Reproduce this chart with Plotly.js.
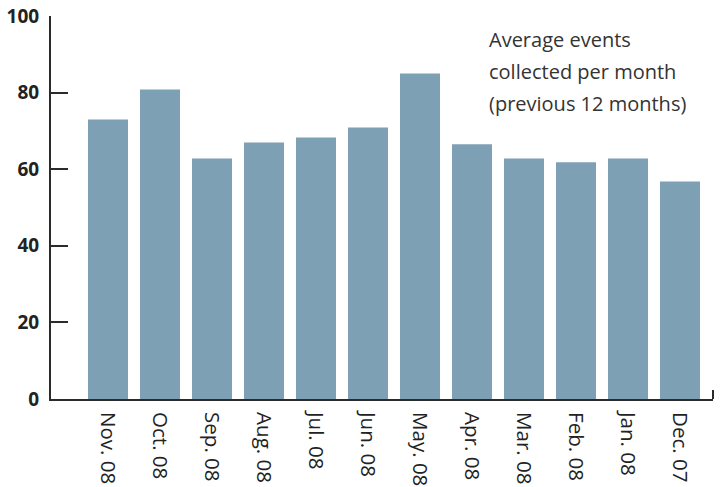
<!DOCTYPE html>
<html>
<head>
<meta charset="utf-8">
<script src="https://cdn.plot.ly/plotly-3.0.1.min.js"></script>
<style>html,body{margin:0;padding:0;background:#fff;}#chart{width:723px;height:487px;}</style>
</head>
<body>
<div id="chart"></div>
<script>
const months = ["Nov. 08","Oct. 08","Sep. 08","Aug. 08","Jul. 08","Jun. 08","May. 08","Apr. 08","Mar. 08","Feb. 08","Jan. 08","Dec. 07"];
const events = [73.0, 80.8, 62.8, 67.0, 68.3, 70.9, 85.0, 66.5, 62.8, 61.8, 62.8, 56.8];
const yTicks = [0, 20, 40, 60, 80, 100];
const noteLines = ["Average events", "collected per month", "(previous 12 months)"];

const axisColor = "#2b2b2b";
const font = "Open Sans, Noto Sans, sans-serif";

const annotations = noteLines.map((t, i) => ({
  xref: "paper", yref: "paper",
  x: (487 - 51) / 662, y: 1 - (i * 31.6 + 24) / 383.2,
  xanchor: "left", yanchor: "middle",
  text: t, showarrow: false,
  font: {family: font, size: 20, color: "#333333"}
}));

Plotly.newPlot("chart", [{
  type: "bar",
  x: months.map((m, i) => i),
  y: events,
  marker: {color: "#7ea0b4"},
  width: 40 / 52,
  hoverinfo: "skip"
}], {
  width: 723, height: 487,
  margin: {l: 51, r: 10, t: 15.5, b: 88.3, pad: 0},
  paper_bgcolor: "#ffffff", plot_bgcolor: "#ffffff",
  showlegend: false,
  font: {family: font, color: "#222222"},
  xaxis: {
    range: [-57 / 52, 605 / 52],
    tickmode: "array",
    tickvals: months.map((m, i) => i),
    ticktext: months,
    tickangle: 90,
    ticks: "",
    showgrid: false, zeroline: false,
    showline: true, linecolor: axisColor, linewidth: 2,
    tickfont: {family: font, size: 20.5, color: "#222222"},
    ticklabelstandoff: 7,
    fixedrange: true
  },
  yaxis: {
    range: [0, 100],
    tickmode: "array",
    tickvals: yTicks,
    ticktext: yTicks.map(String),
    ticks: "inside", ticklen: 17, tickwidth: 2, tickcolor: axisColor,
    showgrid: false, zeroline: false,
    showline: true, linecolor: axisColor, linewidth: 2,
    tickfont: {family: font, size: 19, color: "#222222", weight: "bold"},
    ticklabelstandoff: 6,
    fixedrange: true
  },
  shapes: [{
    type: "line", xref: "paper", yref: "paper",
    x0: 1, x1: 1, y0: 0, y1: 9 / 383.2,
    line: {color: axisColor, width: 2}
  }],
  annotations: annotations
}, {displayModeBar: false, staticPlot: true});
</script>
</body>
</html>
